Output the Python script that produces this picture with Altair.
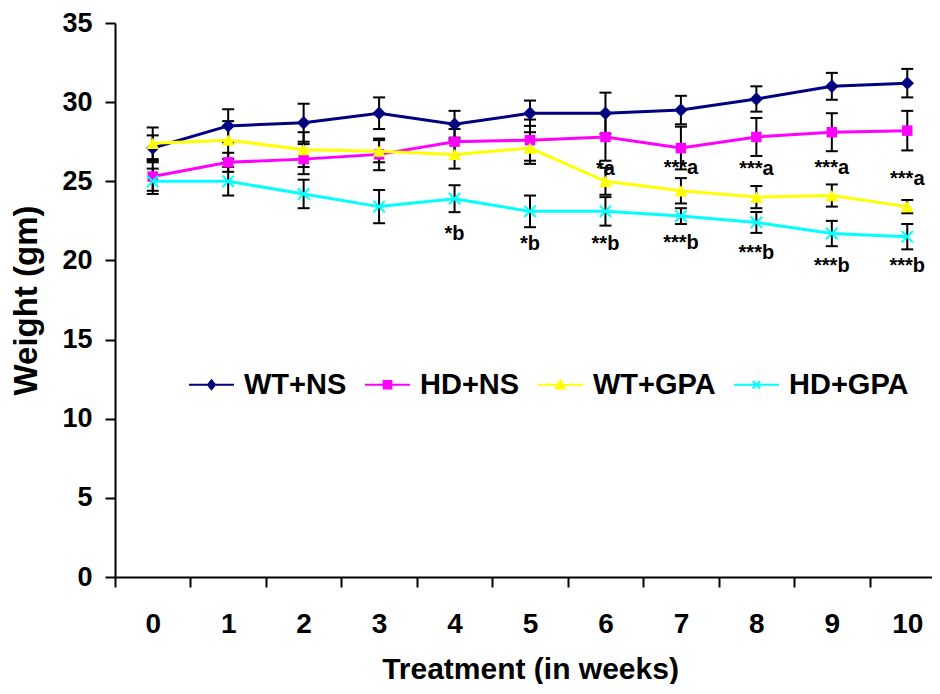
import altair as alt
import pandas as pd

FONT = "Liberation Sans"

weeks = [0, 1, 2, 3, 4, 5, 6, 7, 8, 9, 10]
series_names = ["WT+NS", "HD+NS", "WT+GPA", "HD+GPA"]
series_colors = ["#000080", "#FF00FF", "#FFFF00", "#00FFFF"]

wt_ns = [27.1, 28.5, 28.7, 29.3, 28.6, 29.3, 29.3, 29.5, 30.2, 31.0, 31.2]
wt_ns_err = [0.8, 1.05, 1.2, 1.0, 0.85, 0.8, 1.3, 0.9, 0.8, 0.85, 0.9]
hd_ns = [25.3, 26.2, 26.4, 26.7, 27.5, 27.6, 27.8, 27.1, 27.8, 28.1, 28.2]
hd_ns_err = [0.9, 0.6, 0.95, 1.0, 0.8, 1.3, 1.5, 1.35, 1.2, 1.2, 1.25]
wt_gpa = [27.4, 27.6, 27.0, 26.9, 26.7, 27.1, 25.0, 24.4, 24.0, 24.1, 23.4]
wt_gpa_err = [1.0, 1.2, 1.1, 0.7, 0.9, 1.0, 0.85, 0.8, 0.7, 0.7, 0.42]
hd_gpa = [25.0, 25.0, 24.2, 23.4, 23.9, 23.1, 23.1, 22.8, 22.4, 21.7, 21.5]
hd_gpa_err = [0.8, 0.9, 0.9, 1.05, 0.85, 1.0, 0.9, 0.5, 0.66, 0.8, 0.8]

ann_weeks = [6, 7, 8, 9, 10, 4, 5, 6, 7, 8, 9, 10]
ann_values = [25.77, 25.84, 25.77, 25.84, 25.14, 21.65, 21.04, 21.04, 21.1, 20.5, 19.65, 19.65]
ann_labels = ["*a", "***a", "***a", "***a", "***a", "*b", "*b", "**b", "***b", "***b", "***b", "***b"]

# marker shapes
plot_shapes = ["diamond", "square", "triangle-up", "M-1,-1L1,1M-1,1L1,-1"]
plot_sizes = [180, 110, 170, 130]
plot_filled = [True, True, True, False]
legend_paths = [
    "M-1,0H1M-0.16,0L0,-0.2L0.16,0L0,0.2Z",
    "M-1,0H1M-0.17,-0.17H0.17V0.17H-0.17Z",
    "M-1,0H1M-0.2,0.17L0,-0.2L0.2,0.17Z",
    "M-1,0H1M-0.17,-0.17L0.17,0.17M-0.17,0.17L0.17,-0.17",
]

rows = []
for name, vals, errs in zip(series_names, [wt_ns, hd_ns, wt_gpa, hd_gpa],
                            [wt_ns_err, hd_ns_err, wt_gpa_err, hd_gpa_err]):
    for w, v, e in zip(weeks, vals, errs):
        rows.append({"series": name, "week": w, "value": v, "lo": v - e, "hi": v + e})
df = pd.DataFrame(rows)
ann = pd.DataFrame({"week": ann_weeks, "value": ann_values, "label": ann_labels})

x_axis = alt.Axis(title="Treatment (in weeks)", labelAngle=0, tickBand="extent", tickSize=10,
                  tickWidth=2, tickColor="black", domainColor="black", domainWidth=2,
                  labelFontSize=28, labelFontWeight="bold", labelColor="black", labelFont=FONT,
                  labelBaseline="alphabetic", labelPadding=45,
                  titleFontSize=30, titleFontWeight="bold", titleColor="black",
                  titleFont=FONT, titleBaseline="alphabetic", titleY=101, grid=False)
y_axis = alt.Axis(title="Weight (gm)", values=[0, 5, 10, 15, 20, 25, 30, 35], tickSize=10,
                  tickWidth=2, tickColor="black", domainColor="black", domainWidth=2,
                  labelFontSize=27, labelFontWeight="bold", labelColor="black", labelFont=FONT,
                  labelPadding=13, titleFontSize=33, titleFontWeight="bold", titleColor="black",
                  titleFont=FONT, titlePadding=18, grid=False)
x_scale = alt.Scale(type="band", paddingInner=0, paddingOuter=0)
y_scale = alt.Scale(domain=[0, 35], nice=False, zero=True)


def X():
    return alt.X("week:O", scale=x_scale, axis=x_axis)


def Y(field):
    return alt.Y(field, scale=y_scale, axis=y_axis)


base = alt.Chart(df)

rules = base.mark_rule(color="black", strokeWidth=2).encode(x=X(), y=Y("lo:Q"), y2="hi:Q")
caps_lo = base.mark_tick(color="black", size=12, thickness=2, opacity=1).encode(x=X(), y=Y("lo:Q"))
caps_hi = base.mark_tick(color="black", size=12, thickness=2, opacity=1).encode(x=X(), y=Y("hi:Q"))

series_layers = []
for name, col, shp, sz, fl in zip(series_names, series_colors, plot_shapes, plot_sizes, plot_filled):
    sub = base.transform_filter(alt.datum.series == name)
    series_layers.append(
        sub.mark_line(strokeWidth=3, color=col).encode(x=X(), y=Y("value:Q"), order="week:O")
    )
    series_layers.append(
        sub.mark_point(shape=shp, size=sz, filled=fl, color=col, opacity=1, strokeWidth=2)
        .encode(x=X(), y=Y("value:Q"))
    )

labels = alt.Chart(ann).mark_text(fontSize=20, fontWeight="bold", font=FONT, color="black",
                                  baseline="middle", align="center").encode(
    x=X(), y=Y("value:Q"), text="label:N")

leg = alt.Legend(title=None, orient="none", legendX=73, legendY=338, direction="horizontal",
                 columns=4, columnPadding=14, labelOffset=9, symbolSize=2025, symbolStrokeWidth=2,
                 labelFontSize=29, labelFont=FONT, labelFontWeight="bold", labelColor="black",
                 labelLimit=300, padding=0, symbolOpacity=1)
# legend-only layer: zero-size marks, the legend carries line + marker symbols
legend_layer = base.mark_point(filled=True, size=0).encode(
    x=X(), y=Y("value:Q"),
    shape=alt.Shape("series:N", scale=alt.Scale(domain=series_names, range=legend_paths), legend=leg),
    fill=alt.Fill("series:N", scale=alt.Scale(domain=series_names, range=series_colors), legend=leg),
    stroke=alt.Stroke("series:N", scale=alt.Scale(domain=series_names, range=series_colors), legend=leg),
)

chart = alt.layer(rules, caps_lo, caps_hi, *series_layers, labels, legend_layer).properties(
    width=830, height=554,
    autosize=alt.AutoSizeParams(type="none"),
    padding={"left": 107, "top": 15, "right": -13, "bottom": 107},
    background="white",
).configure_view(stroke=None)

chart.save("out.html", embed_options={"renderer": "svg", "actions": False})
